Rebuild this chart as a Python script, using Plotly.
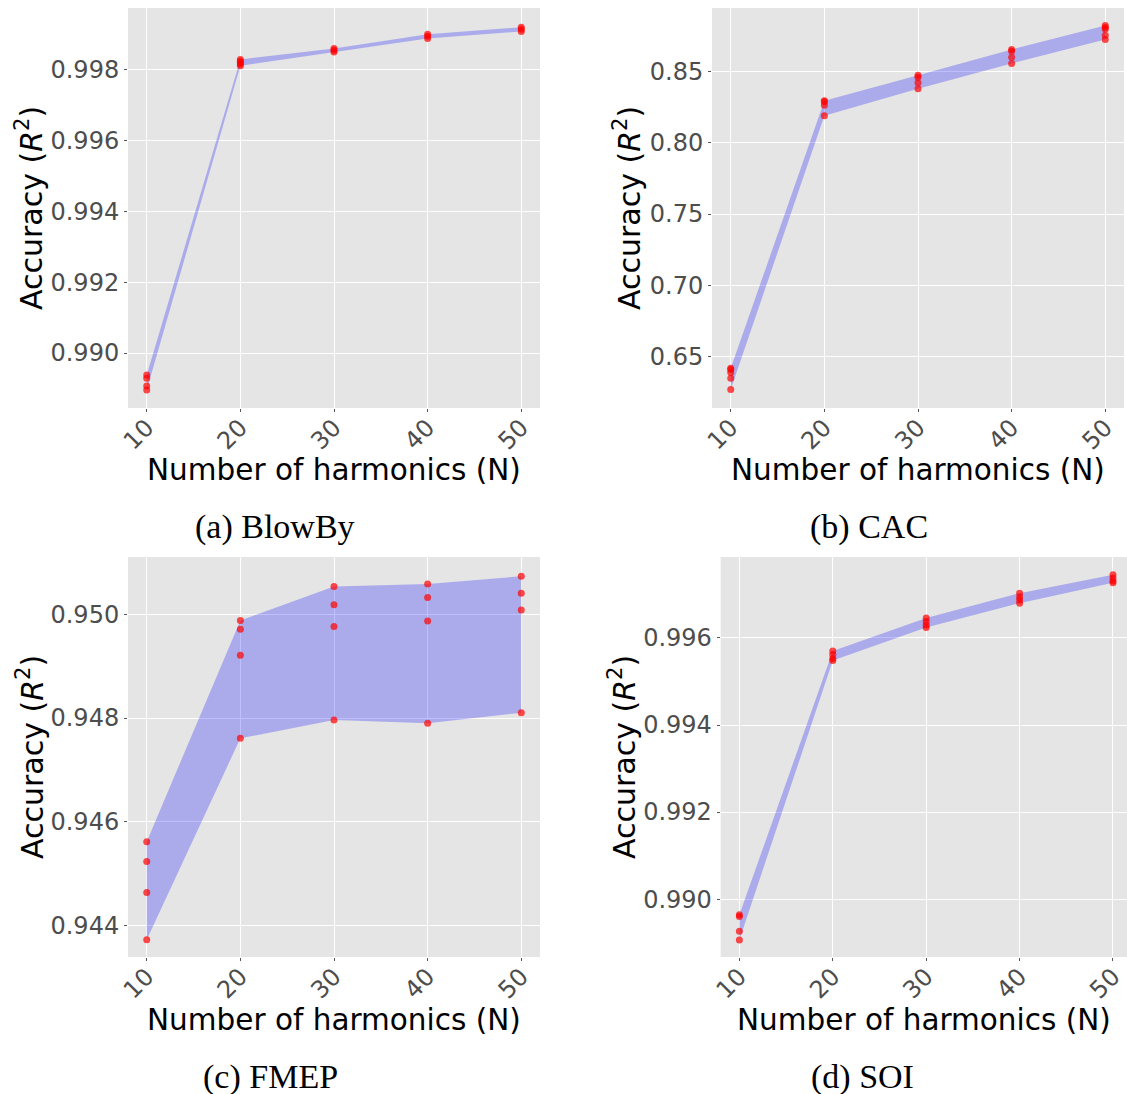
import plotly.graph_objects as go

W, H = 1127, 1094

N_VALUES = [10, 20, 30, 40, 50]

BLOWBY = [
    [0.98938, 0.98929, 0.98907, 0.98896],
    [0.99828, 0.99823, 0.99819, 0.99815, 0.99810],
    [0.99859, 0.99854, 0.99849],
    [0.99899, 0.99893, 0.99887],
    [0.99919, 0.99913, 0.99907],
]
CAC = [
    [0.6420, 0.6412, 0.6390, 0.6350, 0.6272],
    [0.8292, 0.8285, 0.8262, 0.8187],
    [0.8472, 0.8458, 0.8418, 0.8376],
    [0.8652, 0.8640, 0.8598, 0.8554],
    [0.8820, 0.8805, 0.8795, 0.8752, 0.8722],
]
FMEP = [
    [0.94562, 0.94524, 0.94464, 0.94373],
    [0.94988, 0.94971, 0.94921, 0.94761],
    [0.95053, 0.95018, 0.94976, 0.94796],
    [0.95058, 0.95032, 0.94987, 0.94790],
    [0.95073, 0.95040, 0.95008, 0.94810],
]
SOI = [
    [0.98964, 0.98960, 0.98926, 0.98906],
    [0.99570, 0.99562, 0.99553, 0.99548],
    [0.99646, 0.99638, 0.99630, 0.99624],
    [0.99703, 0.99694, 0.99687, 0.99680],
    [0.99745, 0.99738, 0.99731, 0.99727],
]

X_TICKS = [10, 20, 30, 40, 50]
X_TITLE = "Number of harmonics (N)"
Y_TITLE = "Accuracy (<i>R</i><sup>2</sup>)"
CAPTIONS = ["(a) BlowBy", "(b) CAC", "(c) FMEP", "(d) SOI"]

# layout per panel (pixel boxes)
PANELS = [
    dict(data=BLOWBY, box=(128, 540, 8, 408), xr=[8, 52], yr=[0.98845, 0.99973],
         dtick=0.002, fmt=".3f", ytx=30, xty=470, cap=(275, 527)),
    dict(data=CAC, box=(712, 1124, 8, 408), xr=[8, 52], yr=[0.6142, 0.8942],
         dtick=0.05, fmt=".2f", ytx=628, xty=470, cap=(869, 527)),
    dict(data=FMEP, box=(128, 540, 557, 957), xr=[8, 52], yr=[0.94340, 0.95110],
         dtick=0.002, fmt=".3f", ytx=30, xty=1020, cap=(270, 1077)),
    dict(data=SOI, box=(720.7, 1127, 557, 957), xr=[8, 51.5], yr=[0.98867, 0.99786],
         dtick=0.002, fmt=".3f", ytx=622, xty=1020, cap=(862, 1077)),
]

fig = go.Figure()
annotations = []
FONT = "DejaVu Sans"

for i, p in enumerate(PANELS):
    sfx = "" if i == 0 else str(i + 1)
    xa, ya = "x" + sfx, "y" + sfx
    data = p["data"]
    maxs = [max(v) for v in data]
    mins = [min(v) for v in data]
    fig.add_trace(go.Scatter(
        x=N_VALUES + N_VALUES[::-1], y=maxs + mins[::-1],
        fill="toself", fillcolor="rgba(0,0,255,0.25)",
        line=dict(width=0), mode="lines", hoverinfo="skip",
        xaxis=xa, yaxis=ya, showlegend=False))
    xs, ys = [], []
    for n, vals in zip(N_VALUES, data):
        for v in vals:
            xs.append(n)
            ys.append(v)
    fig.add_trace(go.Scatter(
        x=xs, y=ys, mode="markers",
        marker=dict(color="rgba(255,0,0,0.7)", size=7, line=dict(width=0)),
        xaxis=xa, yaxis=ya, showlegend=False))

    x0, x1, y0, y1 = p["box"]
    common = dict(showgrid=True, gridcolor="white", gridwidth=1.3, zeroline=False,
                  showline=False, ticks="outside", ticklen=3, tickcolor="#555555",
                  automargin=False,
                  tickfont=dict(family=FONT, size=24, color="#4d4d4d"))
    fig.layout["xaxis" + sfx] = dict(
        domain=[x0 / W, x1 / W], anchor=ya, range=p["xr"],
        tickvals=X_TICKS, tickangle=-45, ticklabelstandoff=-8, **common)
    fig.layout["yaxis" + sfx] = dict(
        domain=[1 - y1 / H, 1 - y0 / H], anchor=xa, range=p["yr"],
        dtick=p["dtick"], tickformat=p["fmt"], **common)

    annotations.append(dict(
        text=X_TITLE, xref="paper", yref="paper",
        x=(x0 + x1) / 2 / W, y=1 - p["xty"] / H, showarrow=False,
        xanchor="center", yanchor="middle",
        font=dict(family=FONT, size=29.5, color="black")))
    annotations.append(dict(
        text=Y_TITLE, xref="paper", yref="paper", textangle=-90,
        x=p["ytx"] / W, y=1 - (y0 + y1) / 2 / H, showarrow=False,
        xanchor="center", yanchor="middle",
        font=dict(family=FONT, size=30, color="black")))
    annotations.append(dict(
        text=CAPTIONS[i], xref="paper", yref="paper",
        x=p["cap"][0] / W, y=1 - p["cap"][1] / H, showarrow=False,
        xanchor="center", yanchor="middle",
        font=dict(family="Liberation Serif", size=34, color="black")))

fig.update_layout(
    width=W, height=H,
    margin=dict(l=0, r=0, t=0, b=0),
    paper_bgcolor="white",
    plot_bgcolor="#e5e5e5",
    annotations=annotations,
    showlegend=False,
)

fig.write_html(
    "out.html",
    config={"displayModeBar": False},
    post_script="document.body.style.margin='0';document.body.style.overflow='hidden';",
)
